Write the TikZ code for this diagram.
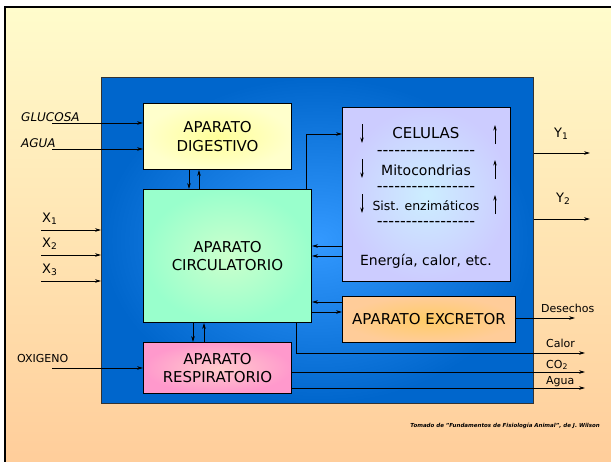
\documentclass[tikz,border=0pt]{standalone}
\usepackage{fontspec}
\setmainfont{DejaVu Sans}
\usepackage{xcolor}
\usepackage{tikz}
\usetikzlibrary{arrows.meta}
\usetikzlibrary{calc}
\usetikzlibrary{positioning}
\tikzset{>=latex}

\definecolor{fondoarriba}{HTML}{FFFCCC}
\definecolor{fondoabajo}{HTML}{FFCC99}
\definecolor{azulborde}{HTML}{0066CC}
\definecolor{azulcentro}{HTML}{3399FF}
\definecolor{digborde}{HTML}{FFFFCC}
\definecolor{digcentro}{HTML}{FFFF99}
\definecolor{cirborde}{HTML}{99FFCC}
\definecolor{circentro}{HTML}{CCFFCC}
\definecolor{celborde}{HTML}{CCCCFF}
\definecolor{celcentro}{HTML}{CCEEFF}
\definecolor{excborde}{HTML}{FFCC99}
\definecolor{exccentro}{HTML}{FFCC66}
\definecolor{resborde}{HTML}{FF99CC}
\definecolor{rescentro}{HTML}{FFCCCC}

% row of hyphens (kern keeps them from turning into dashes)
\newcommand{\dashrow}{\foreach \k in {1,...,17}{-\kern0pt}}

\begin{document}
\begin{tikzpicture}[
        x=1pt, y=-1pt,
        organ/.style={draw=black, line width=1pt, shading=radial, align=center,
            anchor=north west, inner sep=0pt, font=\fontsize{15}{18.5}\selectfont},
        flow/.style={draw, line width=0.8pt, -{Stealth[length=6pt,width=3.6pt]}},
        small flow/.style={draw, line width=0.7pt, -{Stealth[length=5.5pt,width=3.4pt]}},
        lbl/.style={inner sep=0pt, anchor=base west, font=\fontsize{11}{13}\selectfont},
        celtext/.style={inner sep=0pt, anchor=center}
    ]

    \useasboundingbox (0,0) rectangle (611,461);

    %=== Page background ===%
    \shade[top color=fondoarriba, bottom color=fondoabajo, draw=black, line width=2pt]
        (5,7) rectangle (625,475);

    %=== Organism ===%
    \node[draw=black!80, line width=0.8pt, shading=radial, inner color=azulcentro,
        outer color=azulborde, minimum width=432pt, minimum height=326pt,
        anchor=north west, inner sep=0pt] (cuerpo) at (101,77) {};

    %=== Organ boxes ===%
    \node[organ, inner color=digcentro, outer color=digborde,
        minimum width=148pt, minimum height=66pt] (dig) at (143,103) {APARATO\\DIGESTIVO};
    \node[organ, inner color=circentro, outer color=cirborde,
        minimum width=168pt, minimum height=133pt] (cir) at (143,189) {APARATO\\CIRCULATORIO};
    \node[organ, inner color=rescentro, outer color=resborde,
        minimum width=148pt, minimum height=51pt] (res) at (143,342) {APARATO\\RESPIRATORIO};
    \node[organ, inner color=celcentro, outer color=celborde,
        minimum width=168pt, minimum height=174pt] (cel) at (342,107) {};
    \node[organ, inner color=exccentro, outer color=excborde,
        minimum width=173pt, minimum height=46pt] (exc) at (342,296) {APARATO EXCRETOR};

    %=== Inside the cells ===%
    \node[celtext, font=\fontsize{15}{18}\selectfont] (celulas) at (426,133) {CELULAS};
    \node[celtext, font=\fontsize{16}{18}\selectfont] (raya1) at (426,153) {\dashrow};
    \node[celtext, font=\fontsize{14}{18}\selectfont] (mito) at (426,170) {Mitocondrias};
    \node[celtext, font=\fontsize{16}{18}\selectfont] (raya2) at (426,189) {\dashrow};
    \node[celtext, font=\fontsize{12.5}{15}\selectfont] (sist) at (426,206) {Sist. enzimáticos};
    \node[celtext, font=\fontsize{16}{18}\selectfont] (raya3) at (426,224) {\dashrow};
    \node[celtext, font=\fontsize{14}{18}\selectfont] (energia) at (426,261) {Energía, calor, etc.};

    \foreach \r in {134,169,204} {
        \draw[small flow] (362,\r-10) -- (362,\r+9);
        \draw[small flow] (495,\r+10) -- (495,\r-9);
    }

    %=== Inputs ===%
    \coordinate (inglu) at (52,123);
    \coordinate (inagua) at (52,149);
    \coordinate (inoxi) at (52,368);
    \draw[flow] (inglu) -- (inglu -| dig.west);
    \draw[flow] (inagua) -- (inagua -| dig.west);
    \draw[flow] (inoxi) -- (inoxi -| res.west);
    \node[lbl, font=\fontsize{12}{14}\selectfont\itshape] (lglu) at (21,121) {GLUCOSA};
    \node[lbl, font=\fontsize{12}{14}\selectfont\itshape] (lagua) at (21,147) {AGUA};
    \node[lbl] (loxi) at (17,362) {OXIGENO};

    \foreach \i/\y in {1/230,2/255,3/281} {
        \coordinate (inx\i) at (41,\y);
        \draw[flow] (inx\i) -- (inx\i -| cuerpo.west);
        \node[lbl, font=\fontsize{13}{15}\selectfont] (lx\i) at (42,\y-8) {X\textsubscript{\i}};
    }

    %=== Between the organs ===%
    \draw[flow] (dig.south -| 189,0) -- (cir.north -| 189,0);
    \draw[flow] (cir.north -| 199,0) -- (dig.south -| 199,0);
    \draw[flow] (cir.south -| 193,0) -- (res.north -| 193,0);
    \draw[flow] (res.north -| 204,0) -- (cir.south -| 204,0);
    \draw[flow] (cir.north -| 306,0) |- (cel.west |- 0,134);
    \draw[flow] (cel.west |- 0,246) -- (cir.east |- 0,246);
    \draw[flow] (cel.west |- 0,256) -- (cir.east |- 0,256);
    \draw[flow] (exc.west |- 0,302) -- (cir.east |- 0,302);
    \draw[flow] (cir.east |- 0,312) -- (exc.west |- 0,312);

    %=== Outputs ===%
    \coordinate (outy1) at (590,153);
    \coordinate (outy2) at (590,219);
    \coordinate (outdes) at (575,318);
    \coordinate (outcal) at (585,353);
    \coordinate (outco) at (585,372);
    \coordinate (outagua) at (585,388);
    \draw[flow] (cuerpo.east |- outy1) -- (outy1);
    \draw[flow] (cuerpo.east |- outy2) -- (outy2);
    \draw[flow] (exc.east |- outdes) -- (outdes);
    \draw[flow] (cir.south -| 296,0) |- (outcal);
    \draw[flow] (res.east |- outco) -- (outco);
    \draw[flow] (res.east |- outagua) -- (outagua);
    \node[lbl, font=\fontsize{13}{15}\selectfont] (ly1) at (554,137) {Y\textsubscript{1}};
    \node[lbl, font=\fontsize{13}{15}\selectfont] (ly2) at (556,202) {Y\textsubscript{2}};
    \node[lbl] (ldes) at (541,312) {Desechos};
    \node[lbl] (lcal) at (546,347) {Calor};
    \node[lbl] (lco) at (546,368) {CO\textsubscript{2}};
    \node[lbl] (lagua2) at (546,384) {Agua};

    %=== Source ===%
    \node[inner sep=0pt, anchor=east, font=\fontsize{5.5}{6.5}\selectfont\bfseries\itshape]
        (fuente) at (600,426) {Tomado de "Fundamentos de Fisiología Animal", de J. Wilson};

\end{tikzpicture}
\end{document}
